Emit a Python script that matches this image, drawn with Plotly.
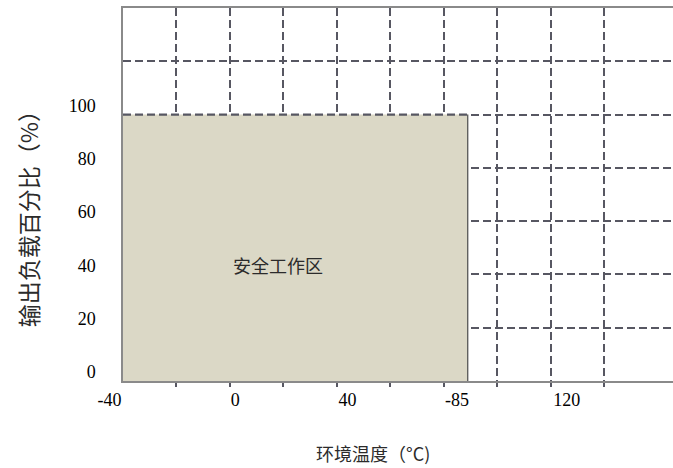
import plotly.graph_objects as go

# ---- data ----
safe_temp = [-40, 89]          # safe operating temperature span (as drawn)
safe_load = [0, 100]           # output load span (%)
x_grid = [-20, 0, 20, 40, 60, 80, 100, 120, 140]
y_grid = [20, 40, 60, 80, 100, 120]
x_tick_pos = [-40, 2, 44, 85, 126]
x_tick_text = ["-40" + "\u00a0" * 6, "0", "40", "-85", "120"]
y_tick_vals = [0, 20, 40, 60, 80, 100]
y_tick_text = ["0", "20", "40", "60", "80", "100"]
region_label = "安全工作区"
x_title = "环境温度（°C)"
y_title = "输出负载百分比（%）"

GRID = "#575762"
DASH = "8px,4px"
FILL = "#dbd8c6"

fig = go.Figure()
fig.add_trace(go.Scatter(
    x=[safe_temp[0], safe_temp[1], safe_temp[1], safe_temp[0], safe_temp[0]],
    y=[safe_load[0], safe_load[0], safe_load[1], safe_load[1], safe_load[0]],
    fill="toself", fillcolor=FILL, mode="lines", line=dict(width=0),
    hoverinfo="skip", showlegend=False))
# right border of the region
fig.add_trace(go.Scatter(
    x=[safe_temp[1], safe_temp[1]], y=[safe_load[0], safe_load[1]],
    mode="lines", line=dict(color="#4a4a4a", width=1.2),
    hoverinfo="skip", showlegend=False))
# top edge (grid line at 100%)
fig.add_trace(go.Scatter(
    x=[safe_temp[0], safe_temp[1]], y=[safe_load[1], safe_load[1]],
    mode="lines", line=dict(color=GRID, width=2.2, dash=DASH),
    hoverinfo="skip", showlegend=False))

fig.add_annotation(x=18, y=43.5, xref="x", yref="y", text=region_label,
                   showarrow=False,
                   font=dict(family="Noto Sans CJK SC", size=18, color="#2b2b2b"))
fig.add_annotation(x=0.4545, y=0, xref="paper", yref="paper", yshift=-72,
                   text=x_title, showarrow=False, xanchor="center", yanchor="middle",
                   font=dict(family="Noto Sans CJK SC", size=18, color="#2b2b2b"))
fig.add_annotation(x=0, y=0.45, xref="paper", yref="paper", xshift=-95,
                   text=y_title, showarrow=False, textangle=-90,
                   xanchor="center", yanchor="middle",
                   font=dict(family="Noto Sans CJK SC", size=23, color="#2b2b2b"))

fig.update_xaxes(
    range=[-40, 165.8], showgrid=False, zeroline=False,
    tickmode="array", tickvals=x_tick_pos, ticktext=x_tick_text, ticks="",
    ticklabelstandoff=2,
    tickfont=dict(family="Liberation Serif", size=18, color="#000000"),
    showline=True, linecolor="#8a8a8a", linewidth=1.5, mirror=True,
    minor=dict(tickmode="array", tickvals=x_grid, showgrid=True,
               gridcolor=GRID, gridwidth=2.2, griddash=DASH,
               ticks="outside", ticklen=4, tickwidth=2, tickcolor=GRID),
)
fig.update_yaxes(
    range=[0, 140], showgrid=False, zeroline=False,
    tickmode="array", tickvals=y_tick_vals, ticktext=y_tick_text,
    ticks="", ticklabelstandoff=22, ticklabelshift=-9,
    tickfont=dict(family="Liberation Serif", size=18, color="#000000"),
    showline=True, linecolor="#8a8a8a", linewidth=1.5,
    minor=dict(tickmode="array", tickvals=y_grid, showgrid=True,
               gridcolor=GRID, gridwidth=2.2, griddash=DASH,
               ticks="", ticklen=2),
)

fig.update_layout(
    width=673, height=468,
    margin=dict(l=123, r=0, t=8, b=87),
    plot_bgcolor="white", paper_bgcolor="white",
    showlegend=False,
)
fig.write_html(
    "out.html",
    config={"displayModeBar": False},
    post_script="document.body.style.margin='0';document.body.style.overflow='hidden';",
)
